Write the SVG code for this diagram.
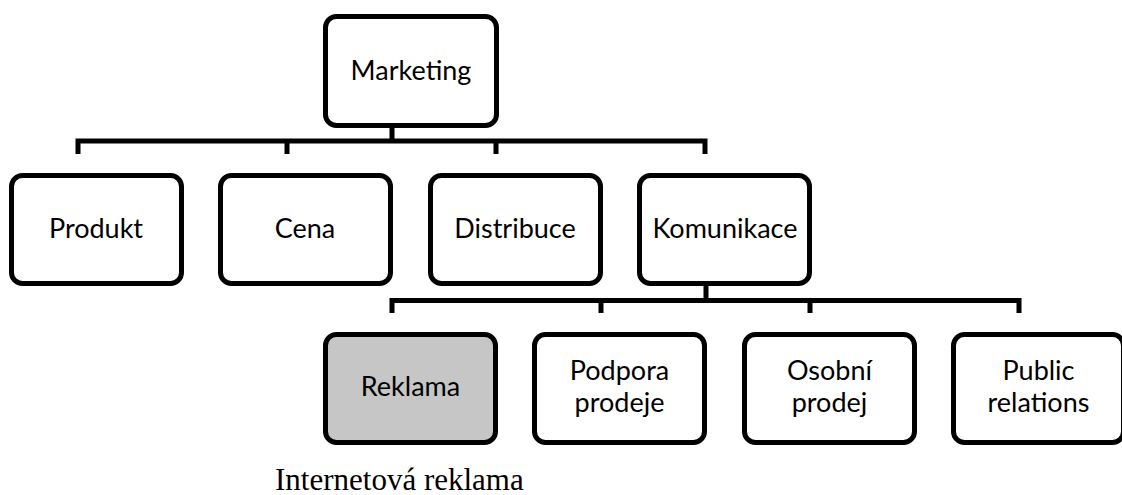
<svg xmlns="http://www.w3.org/2000/svg" width="1122" height="495" viewBox="0 0 1122 495">
<style>
.box{fill:#fff;stroke:#000;stroke-width:5}
.hl{fill:#c6c6c6}
.lbl{font-family:Lato,"Noto Sans",sans-serif;font-size:27px;fill:#000;text-anchor:middle}
.con{fill:none;stroke:#000;stroke-width:5;stroke-linejoin:miter}
.cap{font-family:"Liberation Serif",serif;font-size:31px;fill:#000}
</style>
<rect width="1122" height="495" fill="#fff"/>
<g id="connectors">
<path class="con" d="M78,154V141H705V154M392,128V141M287,141V154M496,141V154"/>
<path d="M706,268V286" stroke="#e2e2e2" stroke-width="6" fill="none"/>
<path class="con" d="M392,313V300.5H1019V313M706,286V300.5M601,300.5V313M810,300.5V313"/>
</g>
<g id="marketing"><rect class="box" x="325.5" y="16.5" width="171" height="109" rx="11"/><text class="lbl" x="411" y="80">Marketing</text></g>
<g id="produkt"><rect class="box" x="11.5" y="175.5" width="170" height="108" rx="11"/><text class="lbl" x="96" y="238">Produkt</text></g>
<g id="cena"><rect class="box" x="220.5" y="175.5" width="170" height="108" rx="11"/><text class="lbl" x="305" y="238">Cena</text></g>
<g id="distribuce"><rect class="box" x="430.5" y="175.5" width="170" height="108" rx="11"/><text class="lbl" x="515" y="238">Distribuce</text></g>
<g id="komunikace"><rect class="box" x="639.5" y="175.5" width="170" height="108" rx="11"/><text class="lbl" x="725" y="238">Komunikace</text></g>
<g id="reklama"><rect class="box hl" x="325.5" y="334.5" width="170" height="108" rx="11"/><text class="lbl" x="410.5" y="396">Reklama</text></g>
<g id="podpora"><rect class="box" x="534.5" y="334.5" width="170" height="108" rx="11"/><text class="lbl" x="619.5" y="380">Podpora</text><text class="lbl" x="619.5" y="412">prodeje</text></g>
<g id="osobni"><rect class="box" x="744.5" y="334.5" width="170" height="108" rx="11"/><text class="lbl" x="829.5" y="380">Osobní</text><text class="lbl" x="829.5" y="412">prodej</text></g>
<g id="public"><rect class="box" x="953.5" y="334.5" width="170" height="108" rx="11"/><text class="lbl" x="1038.5" y="380">Public</text><text class="lbl" x="1038.5" y="412">relations</text></g>
<text class="cap" x="275" y="490">Internetová reklama</text>
</svg>
